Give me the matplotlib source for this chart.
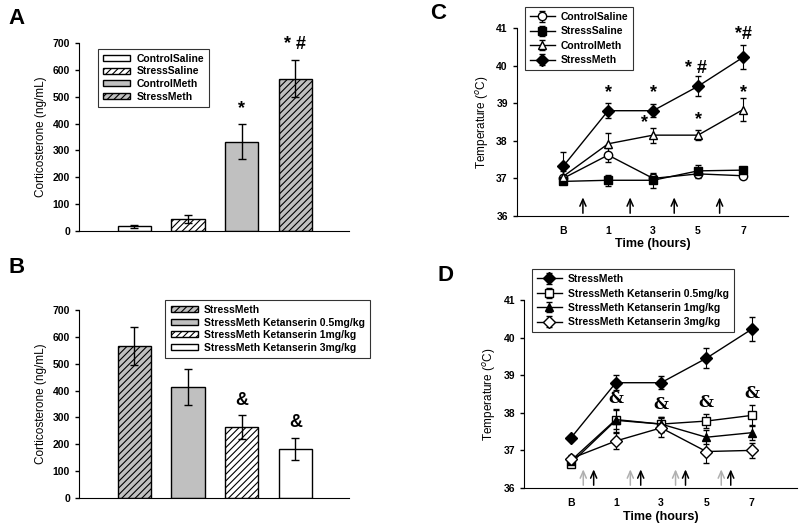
import matplotlib
matplotlib.use("Agg")
import matplotlib.pyplot as plt

plt.rcParams['font.family'] = ['Liberation Sans', 'DejaVu Sans']
plt.rcParams['hatch.linewidth'] = 0.8

# Panel A - corticosterone
a_groups = ['ControlSaline', 'StressSaline', 'ControlMeth', 'StressMeth']
a_vals = [17, 45, 333, 567]
a_err = [5, 15, 65, 70]
a_marks = ['', '', '*', '* #']

# Panel B - corticosterone with ketanserin
b_groups = ['StressMeth', 'StressMeth Ketanserin 0.5mg/kg',
            'StressMeth Ketanserin 1mg/kg', 'StressMeth Ketanserin 3mg/kg']
b_vals = [567, 412, 263, 183]
b_err = [70, 67, 45, 40]
b_marks = ['', '', '&', '&']

# Panel C/D - temperature
times = ['B', '1', '3', '5', '7']
c_ctrl_sal = [37.0, 37.62, 37.0, 37.12, 37.07]
c_ctrl_sal_err = [0.1, 0.18, 0.12, 0.1, 0.07]
c_str_sal = [36.92, 36.95, 36.95, 37.2, 37.22]
c_str_sal_err = [0.05, 0.15, 0.2, 0.15, 0.05]
c_ctrl_meth = [37.05, 37.92, 38.15, 38.15, 38.83]
c_ctrl_meth_err = [0.15, 0.28, 0.2, 0.13, 0.3]
c_str_meth = [37.32, 38.8, 38.8, 39.45, 40.22]
c_str_meth_err = [0.37, 0.2, 0.18, 0.27, 0.32]

d_str_meth_err = [0.05, 0.2, 0.18, 0.27, 0.32]
d_k05 = [36.65, 37.8, 37.7, 37.78, 37.93]
d_k05_err = [0.1, 0.3, 0.2, 0.18, 0.27]
d_k1 = [36.72, 37.82, 37.7, 37.35, 37.47]
d_k1_err = [0.1, 0.25, 0.2, 0.18, 0.2]
d_k3 = [36.78, 37.25, 37.6, 36.97, 37.0]
d_k3_err = [0.1, 0.22, 0.25, 0.3, 0.2]

# injection arrows (x in category units)
c_arrows = [0.44, 1.49, 2.47, 3.48]
d_arrows_grey = [0.28, 1.32, 2.32, 3.33]
d_arrows_black = [0.51, 1.55, 2.54, 3.54]

fig = plt.figure(figsize=(8, 5.24), dpi=100)

grey = '#c0c0c0'
a_style = [dict(color='white', hatch=None), dict(color='white', hatch='/////'),
           dict(color=grey, hatch=None), dict(color=grey, hatch='/////')]
b_style = [a_style[3], a_style[2], a_style[1], a_style[0]]


def bar_panel(rect, groups, vals, err, marks, styles, legend_loc):
    ax = fig.add_axes(rect)
    x = list(range(len(vals)))
    for i in x:
        ax.bar(i, vals[i], width=0.62, color=styles[i]['color'], hatch=styles[i]['hatch'],
               edgecolor='black', linewidth=1, label=groups[i], zorder=2)
        ax.errorbar(i, vals[i], yerr=err[i], color='black', capsize=3, lw=1, zorder=3)
        if marks[i]:
            ax.text(i, vals[i] + err[i] + 25, marks[i], ha='center', va='bottom',
                    fontsize=13, fontweight='bold')
    ax.set_xlim(-1.03, 4.0)
    ax.set_ylim(0, 700)
    ax.set_yticks(range(0, 701, 100))
    ax.set_xticks([])
    for s in ['top', 'right']:
        ax.spines[s].set_visible(False)
    ax.tick_params(axis='y', labelsize=7.5, length=3, width=1)
    for t in ax.get_yticklabels():
        t.set_fontweight('bold')
    ax.set_ylabel('Corticosterone (ng/mL)', fontsize=8.5)
    leg = ax.legend(loc=legend_loc, prop={'size': 7.5, 'weight': 'bold'}, fancybox=False,
                    edgecolor='black', handlelength=2.6, handleheight=0.5,
                    labelspacing=0.25, borderpad=0.5, handletextpad=0.6)
    leg.get_frame().set_linewidth(0.8)
    return ax


axA = bar_panel([0.09875, 0.5592, 0.3375, 0.3588], a_groups, a_vals, a_err, a_marks,
                a_style, (0.07, 0.66))
axB = bar_panel([0.09875, 0.0496, 0.3375, 0.3588], b_groups, b_vals, b_err, b_marks,
                b_style, (0.32, 0.745))


def line_panel(rect, series):
    ax = fig.add_axes(rect)
    x = list(range(len(times)))
    for y, e, mk, fc, lab in series:
        ax.errorbar(x, y, yerr=e, color='black', marker=mk, markerfacecolor=fc,
                    markeredgecolor='black', markersize=6, lw=1, capsize=2,
                    elinewidth=0.8, label=lab, zorder=3)
    ax.set_xlim(-1.03, 5.0)
    ax.set_ylim(36, 41)
    ax.set_xticks(x)
    ax.set_xticklabels(times)
    ax.set_yticks(range(36, 42))
    for s in ['top', 'right']:
        ax.spines[s].set_visible(False)
    ax.tick_params(axis='y', labelsize=7.5, length=3, width=1)
    ax.tick_params(axis='x', labelsize=7.5, length=0, pad=7)
    for t in ax.get_xticklabels() + ax.get_yticklabels():
        t.set_fontweight('bold')
    ax.set_xlabel('Time (hours)', fontsize=9, fontweight='bold', labelpad=2)
    ax.set_ylabel('Temperature ($^{o}$C)', fontsize=8.5)
    return ax


def arrow(ax, x, color):
    ax.annotate('', xy=(x, 36.57), xytext=(x, 36.0),
                arrowprops=dict(arrowstyle='->,head_length=0.5,head_width=0.22',
                                color=color, lw=1.1))


def line_legend(ax, loc):
    leg = ax.legend(loc=loc, prop={'size': 7.5, 'weight': 'bold'}, fancybox=False,
                    edgecolor='black', handlelength=2.4, labelspacing=0.42, borderpad=0.45,
                    handletextpad=0.6)
    leg.get_frame().set_linewidth(0.8)


axC = line_panel([0.646, 0.5878, 0.339, 0.3588], [
    (c_ctrl_sal, c_ctrl_sal_err, 'o', 'white', 'ControlSaline'),
    (c_str_sal, c_str_sal_err, 's', 'black', 'StressSaline'),
    (c_ctrl_meth, c_ctrl_meth_err, '^', 'white', 'ControlMeth'),
    (c_str_meth, c_str_meth_err, 'D', 'black', 'StressMeth'),
])
for xa in c_arrows:
    arrow(axC, xa, 'black')
c_stars = [(1, 39.05, '*'), (2, 39.05, '*'), (1.8, 38.25, '*'), (2.95, 39.7, '* #'),
           (3, 38.35, '*'), (4, 40.6, '*#'), (4, 39.05, '*')]
for xs, ys, s in c_stars:
    axC.text(xs, ys, s, ha='center', va='bottom', fontsize=13, fontweight='bold')
line_legend(axC, (0.03, 0.777))

axD = line_panel([0.655, 0.0687, 0.341, 0.3588], [
    (c_str_meth, d_str_meth_err, 'D', 'black', 'StressMeth'),
    (d_k05, d_k05_err, 's', 'white', 'StressMeth Ketanserin 0.5mg/kg'),
    (d_k1, d_k1_err, '^', 'black', 'StressMeth Ketanserin 1mg/kg'),
    (d_k3, d_k3_err, 'D', 'white', 'StressMeth Ketanserin 3mg/kg'),
])
for xa in d_arrows_grey:
    arrow(axD, xa, '#b0b0b0')
for xa in d_arrows_black:
    arrow(axD, xa, 'black')
for xs, ys in [(1, 38.15), (2, 38.0), (3, 38.05), (4, 38.3)]:
    axD.text(xs, ys, '&', ha='center', va='bottom', fontsize=12, fontweight='bold',
             family='DejaVu Serif')
line_legend(axD, (0.03, 0.83))

for lab, xx, yy in [('A', 0.01, 0.965), ('B', 0.01, 0.49), ('C', 0.538, 0.975), ('D', 0.547, 0.475)]:
    fig.text(xx, yy, lab, fontsize=16, fontweight='bold', va='center')

fig.savefig('out.png', dpi=100)
